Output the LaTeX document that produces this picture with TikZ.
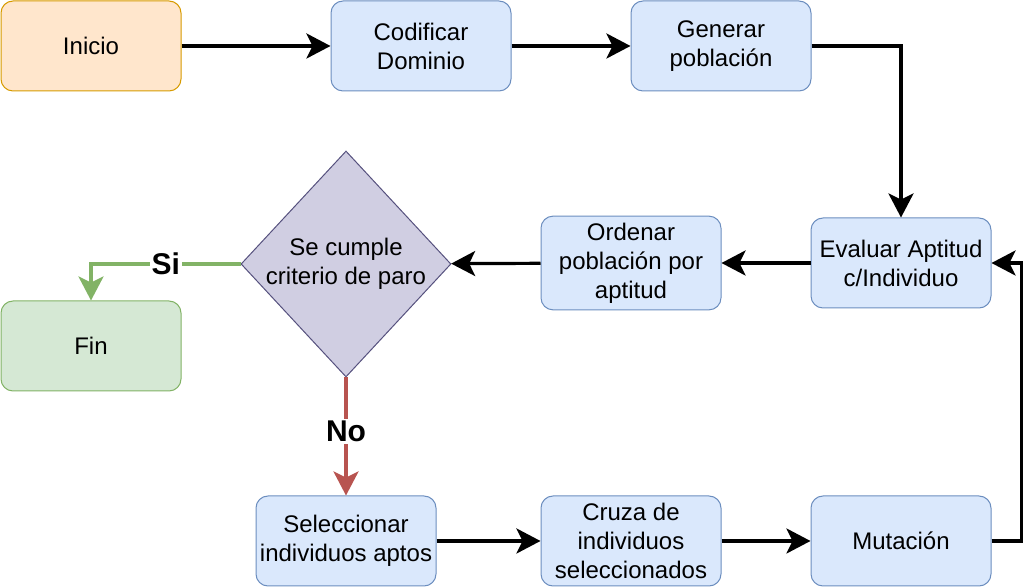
\documentclass[tikz,border=0pt]{standalone}
\usepackage{fontspec}
\setmainfont{Liberation Sans}
\usetikzlibrary{shapes.geometric,arrows.meta}
\definecolor{iniFill}{HTML}{FFE6CC}
\definecolor{iniLine}{HTML}{D79B00}
\definecolor{pasoFill}{HTML}{DAE8FC}
\definecolor{pasoLine}{HTML}{6C8EBF}
\definecolor{finFill}{HTML}{D5E8D4}
\definecolor{finLine}{HTML}{82B366}
\definecolor{decFill}{HTML}{D0CEE2}
\definecolor{decLine}{HTML}{56517E}
\definecolor{noLine}{HTML}{B85450}
\tikzset{
    caja/.style={rectangle,rounded corners=6pt,line width=0.5pt,inner xsep=1pt,minimum width=90pt,minimum height=45pt,align=center},
    flecha/.style={-{Stealth[length=12pt,width=12.5pt,inset=3pt]},line width=1.6pt},
    etiqueta/.style={fill=white,inner sep=1pt,font=\fontsize{15}{18}\selectfont\bfseries}
}

\begin{document}
\begin{tikzpicture}[x=0.5pt,y=-0.5pt,font=\fontsize{12}{14.5}\selectfont]
        \useasboundingbox (0,0) rectangle (1035,587);
        \begin{scope}[every node/.style={caja}]
            \node (ini) [draw=iniLine, fill=iniFill] at (91, 46) {Inicio};
            \node (fin) [draw=finLine, fill=finFill] at (91, 346) {Fin};
        \end{scope}
        \begin{scope}[every node/.style={caja,draw=pasoLine,fill=pasoFill}]
            \node (cod) at (421, 46) {Codificar\\Dominio};
            \node (gen) at (721, 46) {Generar\\población};
            \node (eva) at (901, 263) {Evaluar Aptitud\\c/Individuo};
            \node (ord) at (631, 263) {Ordenar\\población por\\aptitud};
            \node (sel) at (346, 541) {Seleccionar\\individuos aptos};
            \node (cru) at (631, 541) {Cruza de\\individuos\\seleccionados};
            \node (mut) at (901, 541) {Mutación};
        \end{scope}
        \node (dec) [diamond, draw=decLine, fill=decFill, line width=0.5pt, inner sep=0pt,
            minimum width=105pt, minimum height=113pt,
            label={[align=center]center:Se cumple\\criterio de paro}] at (346, 264) {};
        \path [flecha] (ini) edge node {} (cod);
        \path [flecha] (cod) edge node {} (gen);
        \draw [flecha] (gen.east) -| (eva.north);
        \path [flecha] (eva) edge node {} (ord);
        \path [flecha] (ord) edge node {} (dec);
        \draw [flecha, draw=finLine] (dec.west) -| node[pos=0.25, etiqueta] {Si} (fin.north);
        \draw [flecha, draw=noLine] (dec.south) -- node[pos=0.46, etiqueta] {No} (sel.north);
        \path [flecha] (sel) edge node {} (cru);
        \path [flecha] (cru) edge node {} (mut);
        \draw [flecha] (mut.east) -- ++(30, 0) |- (eva.east);
    \end{tikzpicture}
\end{document}
